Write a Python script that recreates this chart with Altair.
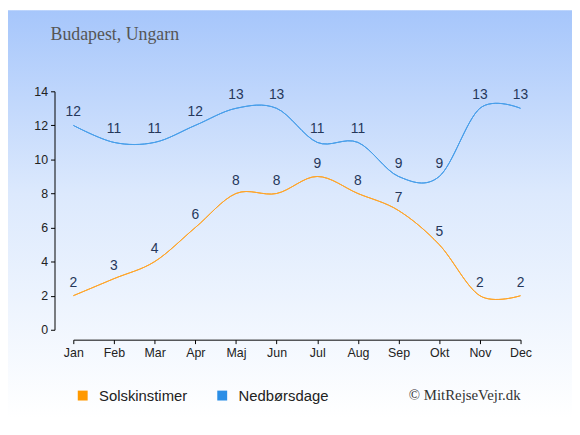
import altair as alt
import pandas as pd

months = ["Jan", "Feb", "Mar", "Apr", "Maj", "Jun", "Jul", "Aug", "Sep", "Okt", "Nov", "Dec"]
sun = [2, 3, 4, 6, 8, 8, 9, 8, 7, 5, 2, 2]
rain = [12, 11, 11, 12, 13, 13, 11, 11, 9, 9, 13, 13]
series = ["Solskinstimer", "Nedbørsdage"]
colors = ["#ff9900", "#2b8ee6"]
line_colors = ["#ffa52e", "#4aa0ea"]
y_ticks = [0, 2, 4, 6, 8, 10, 12, 14]
title_text = "Budapest, Ungarn"
credit_text = "© MitRejseVejr.dk"

rows = []
for m, v in zip(months, sun):
    rows.append({"month": m, "value": v, "series": series[0]})
for m, v in zip(months, rain):
    rows.append({"month": m, "value": v, "series": series[1]})
df = pd.DataFrame(rows)

W, H = 452, 241
PL, PT, PR, PB = 66, 82, 52, 89

common = dict(title=None, domainColor="#000", tickColor="#000", tickSize=4, labelPadding=3,
              labelFont="Liberation Sans", labelFontSize=12.5, labelColor="#222", grid=False,
              zindex=1, labelOverlap=False, labelFlush=False)
xaxis = alt.Axis(labelAngle=0, offset=10, **common)
yaxis = alt.Axis(values=y_ticks, offset=19, **common)

xscale = alt.Scale(type="point", padding=0)
yscale = alt.Scale(domain=[0, 14])
x = alt.X("month:O", sort=months, scale=xscale, axis=xaxis)
y = alt.Y("value:Q", scale=yscale, axis=yaxis)

color = alt.Color("series:N", sort=series, scale=alt.Scale(domain=series, range=colors),
                  legend=alt.Legend(title=None, orient="none", legendX=2, legendY=300,
                                    direction="horizontal", symbolType="square", symbolSize=25,
                                    symbolStrokeWidth=5, labelFont="Liberation Sans", labelFontSize=15,
                                    labelColor="#222", labelOffset=9, columnPadding=22, padding=0))

bg = alt.Chart(pd.DataFrame({"a": [0]})).mark_rect(
    color=alt.Gradient(gradient="linear",
                       stops=[alt.GradientStop(color="#a6c6fb", offset=0),
                              alt.GradientStop(color="#dce9fd", offset=0.45),
                              alt.GradientStop(color="#ffffff", offset=1)],
                       x1=0, x2=0, y1=0, y2=1)
).encode(x=alt.value(-PL), x2=alt.value(W + PR), y=alt.value(-PT), y2=alt.value(H + PB))

base = alt.Chart(df)
lines = base.mark_line(interpolate="cardinal", strokeWidth=1).encode(x=x, y=y, color=color)
line_overlay = base.mark_line(interpolate="cardinal", strokeWidth=1).encode(
    x=x, y=y,
    stroke=alt.Stroke("series:N", scale=alt.Scale(domain=series, range=line_colors), legend=None))
labels = base.mark_text(dy=-13, font="Liberation Sans", fontSize=14, color="#25375a").encode(
    x=x, y=y, text="value:Q")

title = alt.Chart(pd.DataFrame({"t": [title_text]})).mark_text(
    align="left", baseline="middle", font="Liberation Serif", fontSize=18, color="#555"
).encode(x=alt.value(-23), y=alt.value(-57), text="t:N")

credit = alt.Chart(pd.DataFrame({"t": [credit_text]})).mark_text(
    align="right", baseline="middle", font="Liberation Serif", fontSize=15, color="#333"
).encode(x=alt.value(W), y=alt.value(307), text="t:N")

chart = alt.layer(bg, lines, line_overlay, labels, title, credit).resolve_scale(
    color="independent", stroke="independent"
).properties(
    width=W, height=H, padding={"left": PL, "top": PT, "right": PR, "bottom": PB},
    autosize=alt.AutoSizeParams(type="none")
).configure_view(stroke=None).configure(background="#ffffff")

chart.save("out.html", embed_options={"renderer": "svg", "actions": False})
